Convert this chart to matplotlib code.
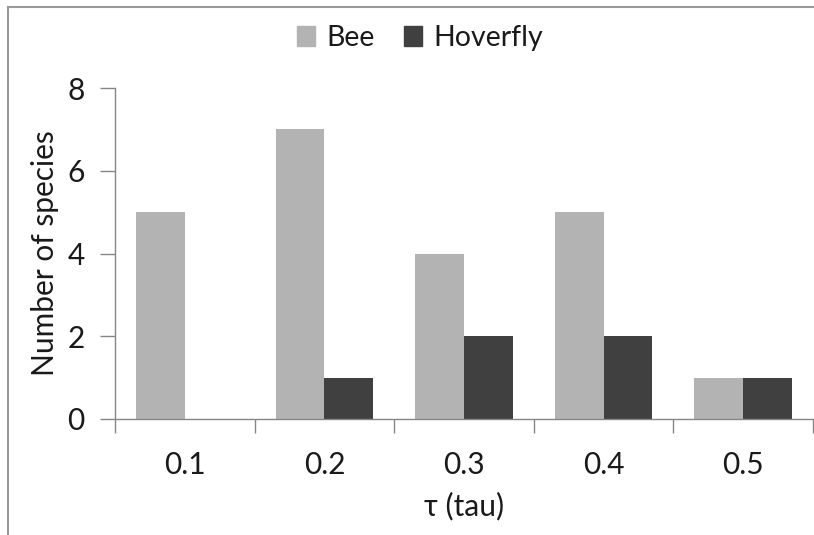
import numpy as np
import matplotlib.pyplot as plt
from matplotlib.lines import Line2D
from matplotlib.patches import Patch

plt.rcParams['font.family'] = ['Lato', 'DejaVu Sans']

# data
tau_labels = ['0.1', '0.2', '0.3', '0.4', '0.5']
bee = [5, 7, 4, 5, 1]
hoverfly = [0, 1, 2, 2, 1]

bee_color = '#b3b3b3'
hov_color = '#404040'
axis_color = '#868686'
text_color = '#1a1a1a'
fs = 21.5

fig = plt.figure(figsize=(8.14, 5.35), dpi=100)
ax = fig.add_axes([115 / 814, 1 - 419 / 535, 698 / 814, 331 / 535])

x = np.arange(len(tau_labels))
w = 0.35
ax.bar(x - w / 2, bee, w, color=bee_color, label='Bee')
ax.bar(x + w / 2, hoverfly, w, color=hov_color, label='Hoverfly')

ax.set_xlim(-0.5, len(tau_labels) - 0.5)
ax.set_ylim(0, 8)
ax.set_yticks([0, 2, 4, 6, 8])

# labels centred in categories, tick marks at boundaries
ax.set_xticks(x)
ax.set_xticklabels(tau_labels)
ax.set_xticks(np.arange(len(tau_labels) + 1) - 0.5, minor=True)
ax.tick_params(axis='x', which='major', length=0, pad=23, labelsize=fs, labelcolor=text_color)
ax.tick_params(axis='x', which='minor', length=10, width=1, color=axis_color, direction='out')
ax.tick_params(axis='y', length=11, width=1, color=axis_color, pad=11, labelsize=fs, labelcolor=text_color)

for s in ['top', 'right']:
    ax.spines[s].set_visible(False)
for s in ['left', 'bottom']:
    ax.spines[s].set_color(axis_color)
    ax.spines[s].set_linewidth(1)

ax.set_ylabel('Number of species', fontsize=fs, color=text_color, labelpad=6)
ax.set_xlabel('τ (tau)', fontsize=fs, color=text_color, labelpad=9)

handles = [Patch(color=bee_color, label='Bee'), Patch(color=hov_color, label='Hoverfly')]
fig.legend(handles=handles, loc='center', bbox_to_anchor=(420 / 814, 1 - 38 / 535), ncol=2,
           frameon=False, fontsize=20.5, handlelength=0.65, handleheight=0.65,
           handletextpad=0.4, columnspacing=1.0, labelcolor=text_color)

# chart border (partially visible in the original crop)
fig.add_artist(Line2D([8 / 814, 8 / 814], [0, 1 - 7 / 535], color='#9a9a9a', lw=1.5))
fig.add_artist(Line2D([8 / 814, 1], [1 - 7 / 535, 1 - 7 / 535], color='#9a9a9a', lw=1.5))

fig.savefig('out.png', dpi=100)
